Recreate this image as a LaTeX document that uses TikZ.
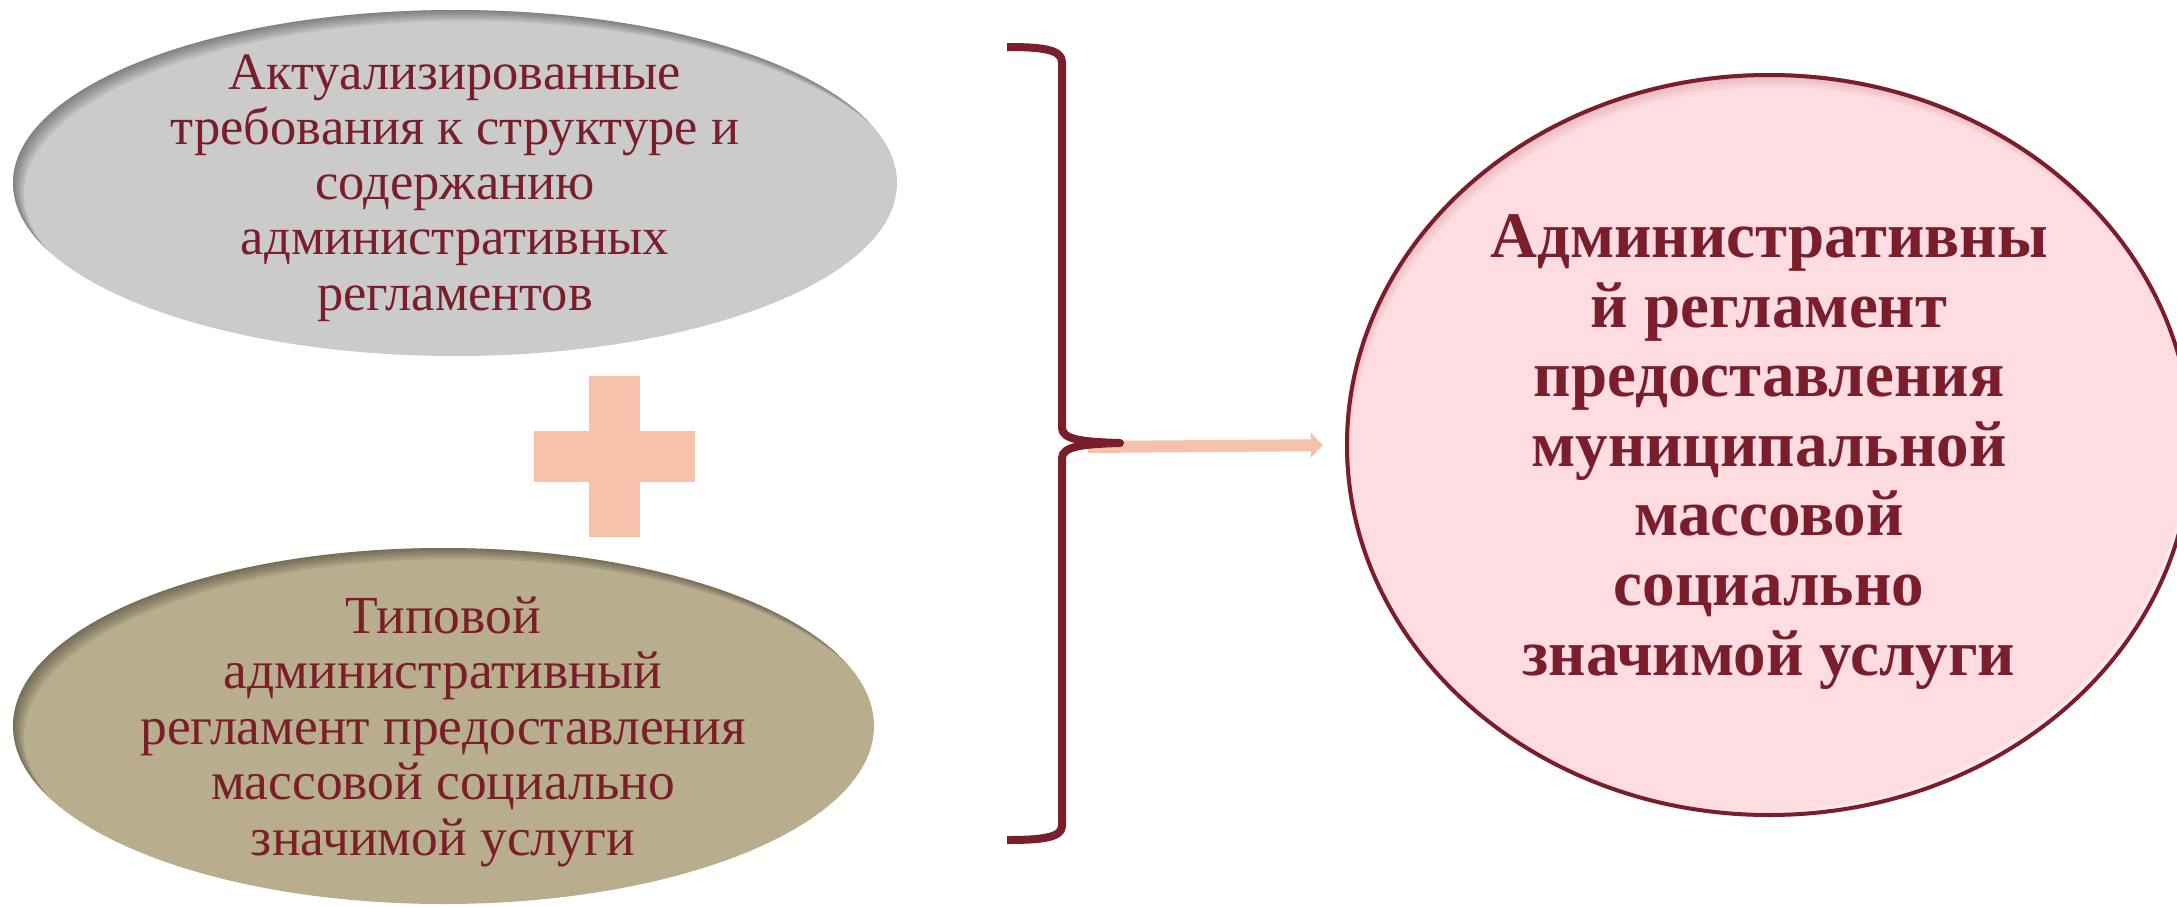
\documentclass[tikz,border=0pt]{standalone}
\usepackage{fontspec}
\setmainfont{Liberation Serif}
\usetikzlibrary{shapes.geometric,arrows.meta}
\definecolor{maroon}{HTML}{7A1E2B}
\definecolor{greyfill}{HTML}{CBCBCB}
\definecolor{khaki}{HTML}{B8AD8C}
\definecolor{peach}{HTML}{F6C2AC}
\definecolor{pinkfill}{HTML}{FFDCE1}
\tikzset{
  oval/.style={ellipse, inner sep=0pt, draw=none},
  lefttext/.style={text=maroon, align=center, anchor=base, inner sep=0pt},
  boldtext/.style={text=maroon, align=center, anchor=base, inner sep=0pt,
    font=\fontsize{65}{69.6}\selectfont\bfseries},
}
\begin{document}
\begin{tikzpicture}[x=1pt,y=-1pt]
\useasboundingbox (0,0) rectangle (2177,907);
\fill[white] (0,0) rectangle (2177,907);

% top ellipse
\node[oval, fill=greyfill, minimum width=884pt, minimum height=346pt] (req) at (455,183) {};
\begin{scope}
  \clip (455,183) ellipse [x radius=442, y radius=173];
  \foreach \d in {1,3,5,7,9,11}
    \fill[black, opacity=0.07, even odd rule] (-10,-10) rectangle (1000,400) (455+\d,183+\d) ellipse [x radius=442, y radius=173];
\end{scope}
\node[lefttext, font=\fontsize{52.5}{55.1}\selectfont] (reqtext) at (455,310) {Актуализированные\\требования к структуре и\\содержанию\\административных\\регламентов};

% plus sign
\fill[peach] (589,376) rectangle (640,537);
\fill[peach] (534,431) rectangle (695,482);

% bottom ellipse
\node[oval, fill=khaki, minimum width=861pt, minimum height=356pt] (typ) at (443.5,726) {};
\begin{scope}
  \clip (443.5,726) ellipse [x radius=430.5, y radius=178];
  \foreach \d in {1,3,5,7,9,11}
    \fill[black, opacity=0.07, even odd rule] (-10,500) rectangle (1000,950) (443.5+\d,726+\d) ellipse [x radius=430.5, y radius=178];
\end{scope}
\node[lefttext, font=\fontsize{53.5}{55.5}\selectfont] (typtext) at (443,855) {Типовой\\административный\\регламент предоставления\\массовой социально\\значимой услуги};

% result circle
\node[oval, fill=pinkfill, minimum width=848pt, minimum height=744pt] (res) at (1769,445) {};
\begin{scope}
  \clip (1769,445) ellipse [x radius=424, y radius=372];
  \foreach \d in {2,4,6}
    \fill[white, opacity=0.35, even odd rule] (1300,0) rectangle (2250,907) (1769-\d,445-\d) ellipse [x radius=424, y radius=372];
  \foreach \d in {2,5,8,11,14}
    \fill[maroon, opacity=0.045, even odd rule] (1300,0) rectangle (2250,907) (1769+0.4*\d,445+\d) ellipse [x radius=424, y radius=372];
\end{scope}
\draw[maroon, line width=4pt] (1769,445) ellipse [x radius=422, y radius=370];
\node[boldtext] (restext) at (1769,675) {Административны\\й регламент\\предоставления\\муниципальной\\массовой\\социально\\значимой услуги};

% arrow
\coordinate (arrowstart) at (1088,447);
\draw[peach, line width=12pt, -{Triangle[width=24pt,length=12pt]}, shorten >=22pt] (arrowstart) -- (res.west);

% brace
\coordinate (bracetop) at (1007,47);
\coordinate (bracetip) at (1120,443);
\coordinate (bracebot) at (1007,840);
\draw[maroon, line width=8pt, line join=round]
  (bracetop) .. controls (1040,47) and (1062,49) .. (1062,62)
  -- (1062,428) .. controls (1062,440) and (1085,442) .. (bracetip)
  .. controls (1085,444) and (1062,446) .. (1062,458)
  -- (1062,826) .. controls (1062,838) and (1040,840) .. (bracebot);
\end{tikzpicture}
\end{document}
